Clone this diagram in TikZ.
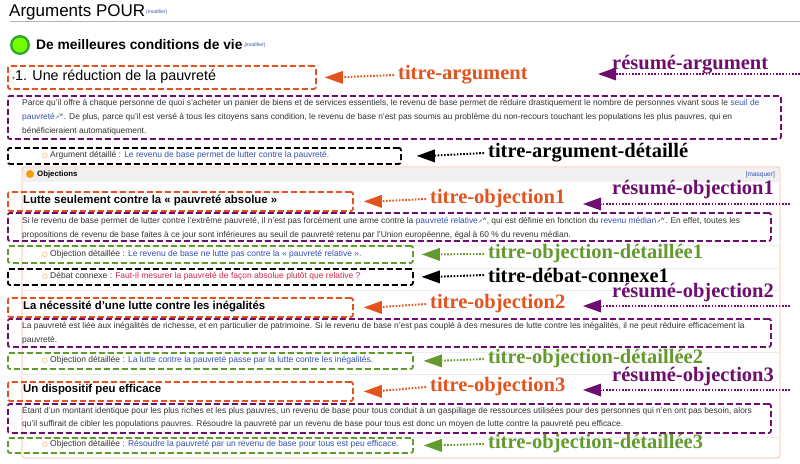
\documentclass[tikz,border=0pt]{standalone}
\usepackage{fontspec}
\setmainfont{Liberation Sans}
\newfontfamily\lblfont{Liberation Serif}
\newfontfamily\djv{DejaVu Sans}
\usetikzlibrary{arrows.meta}
\definecolor{cor}{HTML}{E2531D}
\definecolor{cpu}{HTML}{6E0F70}
\definecolor{cgr}{HTML}{639A2E}
\definecolor{clk}{HTML}{3550B0}
\definecolor{crd}{HTML}{D02848}
\definecolor{ctx}{HTML}{333333}
\definecolor{cfr}{HTML}{F6B8A0}
\newcommand{\lk}[1]{\textcolor{clk}{#1}}
\newcommand{\ext}{\textcolor{clk}{\djv\fontsize{5.5}{5}\selectfont↗}\textsuperscript{\fontsize{4}{4}\selectfont W}}
\newcommand{\magn}{\textcolor{orange}{\djv\fontsize{6.5}{6}\selectfont○}}
\begin{document}
\begin{tikzpicture}[x=1pt,y=-1pt,
  box/.style={draw,line width=1.8pt,dash pattern=on 6pt off 3pt,rounded corners=2pt,anchor=north west,inner sep=0pt},
  ob/.style={box,draw=cor}, pb/.style={box,draw=cpu}, gb/.style={box,draw=cgr}, kb/.style={box,draw=black},
  body/.style={anchor=west,inner sep=0pt,text=ctx,font=\fontsize{8.4}{9}\selectfont},
  lbl/.style={anchor=west,inner sep=0pt,font=\lblfont\bfseries\fontsize{20.5}{20}\selectfont},
  dl/.style={line width=2pt,dash pattern=on 1.6pt off 1.6pt},
  tp/.style={line width=0pt,-{Triangle[length=18pt,width=13pt]}},
  otitle/.style={anchor=west,inner sep=0pt,font=\bfseries\fontsize{11.4}{12}\selectfont},
  mag/.style={anchor=west,inner sep=0pt,text=ctx,font=\fontsize{8.5}{9}\selectfont}
]
\useasboundingbox (0,0) rectangle (800,463);
\fill[white] (0,0) rectangle (800,463);
% header
\node[anchor=west,inner sep=0pt,font=\fontsize{17}{17}\selectfont] (h1) at (9,12) {Arguments POUR};
\node[anchor=west,inner sep=0pt,font=\fontsize{5}{5}\selectfont,text=clk] (h1m) at (h1.east) {\,[modifier]};
\draw[gray!60] (10,21) -- (800,21);
\fill[green!55!black!80] (20,45) circle (10);
\fill[green!40!lime] (20,45) circle (7.5);
\node[anchor=west,inner sep=0pt,font=\bfseries\fontsize{13.8}{14}\selectfont] (h2) at (36,45) {De meilleures conditions de vie};
\node[anchor=west,inner sep=0pt,font=\fontsize{5}{5}\selectfont,text=clk] (h2m) at (h2.east) {\,\,[modifier]};
% outer frame
\draw[cfr,line width=0.8pt,rounded corners=3pt,fill=white] (22,167) rectangle (780,458);
\fill[gray!12] (23,168) rectangle (779,182);
\foreach \yy in {245,268,290,352,374,437} \draw[gray!15] (23,\yy) -- (779,\yy);
\fill[orange!80!yellow] (30,174) circle (4);
\node[anchor=west,inner sep=0pt,font=\bfseries\fontsize{7.8}{8}\selectfont] (objh) at (37,174.5) {Objections};
\node[anchor=east,inner sep=0pt,font=\fontsize{6.5}{6}\selectfont,text=clk] (masq) at (775,174.5) {[masquer]};
% argument
\node[ob,minimum width=308pt,minimum height=23pt] (b1) at (7,65) {};
\node[anchor=west,inner sep=0pt,font=\fontsize{14.3}{14}\selectfont] (t1) at (12,77) {\textcolor{gray}{\djv\fontsize{6}{6}\selectfont▾}1. Une réduction de la pauvreté};
\node[pb,minimum width=773pt,minimum height=43pt] (b2) at (7,95) {};
\node[body] at (22,103) {Parce qu'il offre à chaque personne de quoi s'acheter un panier de biens et de services essentiels, le revenu de base permet de réduire drastiquement le nombre de personnes vivant sous le \lk{seuil de}};
\node[body] at (22,117) {\lk{pauvreté}\ext. De plus, parce qu'il est versé à tous les citoyens sans condition, le revenu de base n'est pas soumis au problème du non-recours touchant les populations les plus pauvres, qui en};
\node[body] at (22,131) {bénéficieraient automatiquement.};
\node[kb,minimum width=393pt,minimum height=16pt] (b3) at (7,147) {};
\node[mag] at (42,155) {\magn~Argument détaillé : \lk{Le revenu de base permet de lutter contre la pauvreté.}};
% objection 1
\node[ob,minimum width=345pt,minimum height=19pt] (o1) at (7,191) {};
\node[otitle] at (23,200.5) {Lutte seulement contre la « pauvreté absolue »};
\node[pb,minimum width=763pt,minimum height=28pt] (p1) at (7,212) {};
\node[body] at (22,221) {Si le revenu de base permet de lutter contre l'extrême pauvreté, il n'est pas forcément une arme contre la \lk{pauvreté relative}\ext, qui est définie en fonction du \lk{revenu médian}\ext. En effet, toutes les};
\node[body] at (22,235) {propositions de revenu de base faites à ce jour sont inférieures au seuil de pauvreté retenu par l'Union européenne, égal à 60 \% du revenu médian.};
\node[gb,minimum width=405pt,minimum height=17pt] (g1) at (7,245) {};
\node[mag] at (42,254) {\magn~Objection détaillée : \lk{Le revenu de base ne lutte pas contre la « pauvreté relative ».}};
\node[kb,minimum width=405pt,minimum height=16pt] (k1) at (7,268) {};
\node[mag] at (42,276) {\magn~Débat connexe : \textcolor{crd}{Faut-il mesurer la pauvreté de façon absolue plutôt que relative ?}};
% objection 2
\node[ob,minimum width=345pt,minimum height=19pt] (o2) at (7,297) {};
\node[otitle] at (23,306.5) {La nécessité d'une lutte contre les inégalités};
\node[pb,minimum width=763pt,minimum height=28pt] (p2) at (7,318) {};
\node[body] at (22,326) {La pauvreté est liée aux inégalités de richesse, et en particulier de patrimoine. Si le revenu de base n'est pas couplé à des mesures de lutte contre les inégalités, il ne peut réduire efficacement la};
\node[body] at (22,340) {pauvreté.};
\node[gb,minimum width=405pt,minimum height=16pt] (g2) at (7,352) {};
\node[mag] at (42,360) {\magn~Objection détaillée : \lk{La lutte contre la pauvreté passe par la lutte contre les inégalités.}};
% objection 3
\node[ob,minimum width=345pt,minimum height=19pt] (o3) at (7,381) {};
\node[otitle] at (23,390) {Un dispositif peu efficace};
\node[pb,minimum width=763pt,minimum height=29pt] (p3) at (7,403) {};
\node[body] at (22,411) {Étant d'un montant identique pour les plus riches et les plus pauvres, un revenu de base pour tous conduit à un gaspillage de ressources utilisées pour des personnes qui n'en ont pas besoin, alors};
\node[body] at (22,424) {qu'il suffirait de cibler les populations pauvres. Résoudre la pauvreté par un revenu de base pour tous est donc un moyen de lutte contre la pauvreté peu efficace.};
\node[gb,minimum width=405pt,minimum height=15pt] (g3) at (7,437) {};
\node[mag] at (42,444.5) {\magn~Objection détaillée : \lk{Résoudre la pauvreté par un revenu de base pour tous est peu efficace.}};
% labels and arrows
\node[lbl,text=cor] (L1) at (398,75) {titre-argument};
\coordinate (a1) at ([xshift=8pt]b1.east);
\draw[dl,cor] ([xshift=-4pt]L1.west) -- ([xshift=12pt]a1); \draw[tp,cor] ([xshift=2pt]a1) -- (a1);
\node[lbl,text=cpu] (L2) at (612,65) {résumé-argument};
\coordinate (e2) at (800,74); \coordinate (a2) at (598,74);
\draw[dl,cpu] (e2) -- ([xshift=12pt]a2); \draw[tp,cpu] ([xshift=2pt]a2) -- (a2);
\node[lbl,text=black] (L3) at (488,153) {titre-argument-détaillé};
\coordinate (a3) at ([xshift=15pt]b3.east);
\draw[dl,black] ([xshift=-4pt]L3.west) -- ([xshift=12pt]a3); \draw[tp,black] ([xshift=2pt]a3) -- (a3);
% obj1
\node[lbl,text=cor] (L4) at (430,199) {titre-objection1};
\coordinate (a4) at ([xshift=10pt]o1.east);
\draw[dl,cor] ([xshift=-4pt]L4.west) -- ([xshift=12pt]a4); \draw[tp,cor] ([xshift=2pt]a4) -- (a4);
\node[lbl,text=cpu] (L5) at (612,190) {résumé-objection1};
\coordinate (e5) at (790,204); \coordinate (a5) at (583,204);
\draw[dl,cpu] (e5) -- ([xshift=12pt]a5); \draw[tp,cpu] ([xshift=2pt]a5) -- (a5);
\node[lbl,text=cgr] (L6) at (488,254) {titre-objection-détaillée1};
\coordinate (a6) at ([xshift=8pt]g1.east);
\draw[dl,cgr] ([xshift=-4pt]L6.west) -- ([xshift=12pt]a6); \draw[tp,cgr] ([xshift=2pt]a6) -- (a6);
\node[lbl,text=black] (L7) at (488,275) {titre-débat-connexe1};
\coordinate (a7) at ([xshift=8pt]k1.east);
\draw[dl,black] ([xshift=-4pt]L7.west) -- ([xshift=12pt]a7); \draw[tp,black] ([xshift=2pt]a7) -- (a7);
% obj2
\node[lbl,text=cor] (L8) at (430,304) {titre-objection2};
\coordinate (a8) at ([xshift=10pt]o2.east);
\draw[dl,cor] ([xshift=-4pt]L8.west) -- ([xshift=12pt]a8); \draw[tp,cor] ([xshift=2pt]a8) -- (a8);
\node[lbl,text=cpu] (L9) at (612,293) {résumé-objection2};
\coordinate (e9) at (790,306); \coordinate (a9) at (583,306);
\draw[dl,cpu] (e9) -- ([xshift=12pt]a9); \draw[tp,cpu] ([xshift=2pt]a9) -- (a9);
\node[lbl,text=cgr] (L10) at (488,359) {titre-objection-détaillée2};
\coordinate (a10) at ([xshift=10pt]g2.east);
\draw[dl,cgr] ([xshift=-4pt]L10.west) -- ([xshift=12pt]a10); \draw[tp,cgr] ([xshift=2pt]a10) -- (a10);
% obj3
\node[lbl,text=cor] (L11) at (430,387) {titre-objection3};
\coordinate (a11) at ([xshift=10pt]o3.east);
\draw[dl,cor] ([xshift=-4pt]L11.west) -- ([xshift=12pt]a11); \draw[tp,cor] ([xshift=2pt]a11) -- (a11);
\node[lbl,text=cpu] (L12) at (612,377) {résumé-objection3};
\coordinate (e12) at (790,390); \coordinate (a12) at (583,390);
\draw[dl,cpu] (e12) -- ([xshift=12pt]a12); \draw[tp,cpu] ([xshift=2pt]a12) -- (a12);
\node[lbl,text=cgr] (L13) at (488,444) {titre-objection-détaillée3};
\coordinate (a13) at ([xshift=10pt]g3.east);
\draw[dl,cgr] ([xshift=-4pt]L13.west) -- ([xshift=12pt]a13); \draw[tp,cgr] ([xshift=2pt]a13) -- (a13);
\end{tikzpicture}
\end{document}
